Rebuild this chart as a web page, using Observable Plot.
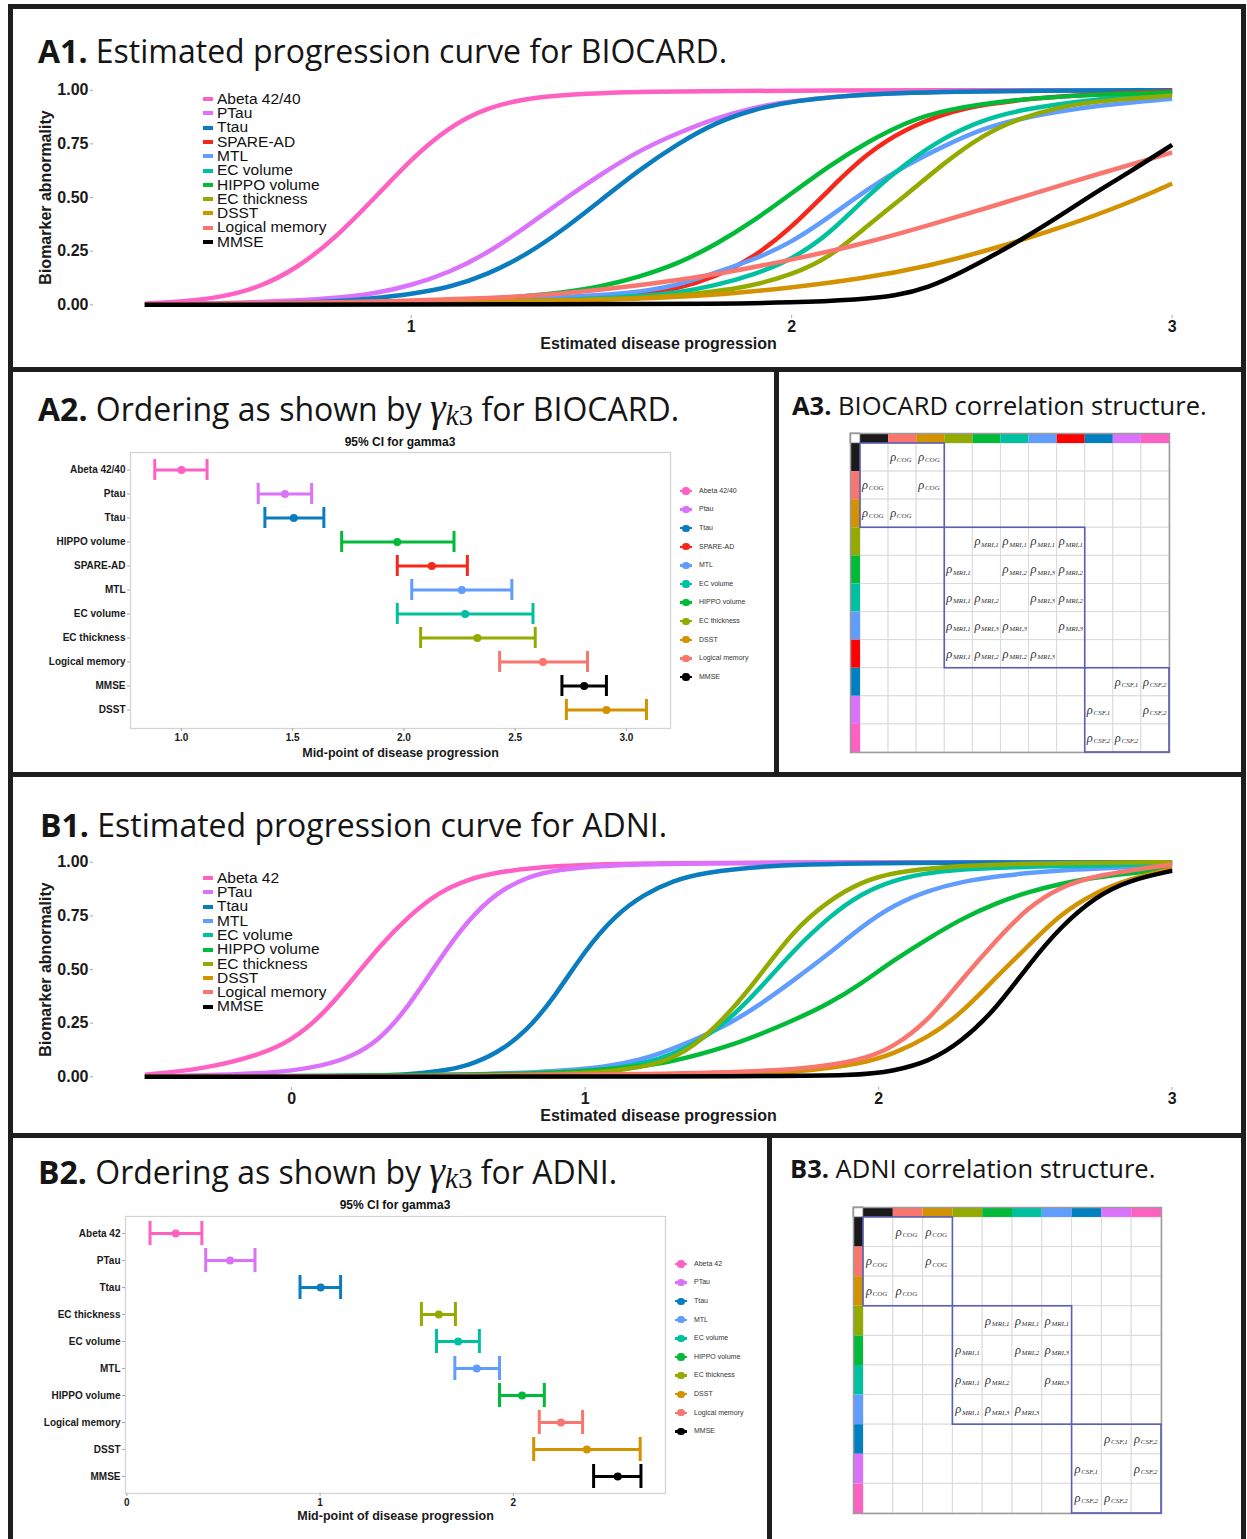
<!DOCTYPE html>
<html><head><meta charset="utf-8">
<script src="https://cdn.jsdelivr.net/npm/d3@7"></script>
<script src="https://cdn.jsdelivr.net/npm/@observablehq/plot@0.6"></script>
<style>
body{margin:0;background:#fff;}
#page{position:relative;width:1247px;height:1539px;overflow:hidden;font-family:"Liberation Sans",Arial,sans-serif;background:#fff;}
.abs{position:absolute;}
.box{position:absolute;border:5px solid #1e1e1e;box-sizing:border-box;pointer-events:none;}
.title{position:absolute;font-family:"Open Sans",sans-serif;font-size:32px;line-height:32px;color:#151515;white-space:nowrap;}
.title.small{font-size:25.5px;line-height:25.5px;}
.gam{font-family:"Liberation Serif",serif;font-style:italic;font-size:40px;}
.gsub{font-family:"Liberation Serif",serif;font-size:29px;position:relative;top:4px;}
.sub{position:absolute;font-weight:bold;font-size:12px;line-height:12px;text-align:center;color:#111;white-space:nowrap;}
</style>
</head><body>
<div id="page"></div>
<script>
// ---------- A1: BIOCARD progression curves (x, abnormality) ----------
const A1_NAMES = ["Abeta 42/40","PTau","Ttau","SPARE-AD","MTL","EC volume","HIPPO volume","EC thickness","DSST","Logical memory","MMSE"];
const A1_COLORS = ["#FF61C3","#DB72FB","#0A7DBE","#F5291B","#619CFF","#00C19F","#00BA38","#93AA00","#D39200","#F8766D","#000000"];
const A1_ABETA = [[0.3,0.005],[0.4,0.015],[0.5,0.035],[0.6,0.08],[0.7,0.17],[0.8,0.31],[0.9,0.49],[1.0,0.68],[1.1,0.83],[1.2,0.92],[1.3,0.96],[1.4,0.98],[1.6,0.995],[2.0,1],[3.0,1]];
const A1_PTAU = [[0.3,0.002],[0.6,0.01],[0.8,0.03],[0.9,0.05],[1.0,0.09],[1.1,0.15],[1.2,0.24],[1.3,0.36],[1.4,0.49],[1.5,0.61],[1.6,0.72],[1.7,0.8],[1.8,0.87],[1.9,0.92],[2.0,0.95],[2.2,0.985],[2.5,0.997],[3.0,1]];
const A1_TTAU = [[0.3,0.001],[0.6,0.005],[0.8,0.015],[0.9,0.03],[1.0,0.05],[1.1,0.08],[1.2,0.14],[1.3,0.23],[1.4,0.35],[1.5,0.49],[1.6,0.63],[1.7,0.75],[1.8,0.85],[1.9,0.91],[2.0,0.95],[2.2,0.985],[2.5,0.997],[3.0,1]];
const A1_SPARE = [[0.3,0],[1.0,0.005],[1.2,0.01],[1.4,0.02],[1.6,0.045],[1.7,0.075],[1.8,0.13],[1.9,0.22],[2.0,0.36],[2.1,0.54],[2.2,0.71],[2.3,0.82],[2.4,0.89],[2.5,0.935],[2.7,0.975],[3.0,0.995]];
const A1_MTL = [[0.3,0],[1.0,0.01],[1.3,0.025],[1.5,0.045],[1.6,0.06],[1.7,0.09],[1.8,0.15],[1.9,0.21],[2.0,0.29],[2.1,0.41],[2.2,0.54],[2.3,0.65],[2.4,0.74],[2.5,0.82],[2.6,0.87],[2.8,0.93],[3.0,0.96]];
const A1_ECVOL = [[0.3,0],[1.0,0.005],[1.4,0.02],[1.6,0.04],[1.7,0.055],[1.8,0.09],[1.9,0.14],[2.0,0.21],[2.1,0.33],[2.2,0.51],[2.3,0.66],[2.4,0.78],[2.5,0.86],[2.6,0.91],[2.8,0.96],[3.0,0.985]];
const A1_HIPPO = [[0.3,0],[1.0,0.01],[1.2,0.025],[1.4,0.055],[1.5,0.085],[1.6,0.13],[1.7,0.19],[1.8,0.28],[1.9,0.39],[2.0,0.52],[2.1,0.65],[2.2,0.76],[2.3,0.85],[2.4,0.91],[2.6,0.96],[2.8,0.98],[3.0,0.99]];
const A1_ECTHK = [[0.3,0],[1.0,0.005],[1.4,0.015],[1.6,0.03],[1.8,0.06],[1.9,0.09],[2.0,0.14],[2.1,0.22],[2.2,0.37],[2.3,0.51],[2.4,0.66],[2.5,0.79],[2.6,0.87],[2.7,0.92],[2.8,0.95],[3.0,0.975]];
const A1_DSST = [[0.3,0],[1.0,0.01],[1.4,0.02],[1.65,0.03],[1.83,0.05],[2.0,0.08],[2.18,0.12],[2.36,0.18],[2.53,0.26],[2.71,0.36],[2.88,0.47],[3.0,0.565]];
const A1_LOGMEM = [[0.3,0.003],[0.8,0.01],[1.0,0.02],[1.2,0.03],[1.4,0.05],[1.65,0.1],[1.83,0.15],[2.0,0.21],[2.18,0.28],[2.36,0.37],[2.53,0.46],[2.71,0.56],[3.0,0.71]];
const A1_MMSE = [[0.3,0],[1.5,0.002],[1.8,0.005],[2.0,0.01],[2.18,0.025],[2.27,0.04],[2.36,0.08],[2.445,0.15],[2.53,0.23],[2.62,0.32],[2.71,0.42],[2.795,0.52],[2.88,0.61],[3.0,0.745]];
const A1_SERIES = [A1_ABETA,A1_PTAU,A1_TTAU,A1_SPARE,A1_MTL,A1_ECVOL,A1_HIPPO,A1_ECTHK,A1_DSST,A1_LOGMEM,A1_MMSE];
const A1_XTICKS = [1,2,3];

// ---------- B1: ADNI progression curves ----------
const B1_NAMES = ["Abeta 42","PTau","Ttau","MTL","EC volume","HIPPO volume","EC thickness","DSST","Logical memory","MMSE"];
const B1_COLORS = ["#FF61C3","#DB72FB","#0A7DBE","#619CFF","#00C19F","#00BA38","#93AA00","#D39200","#F8766D","#000000"];
const B1_ABETA = [[-0.5,0.01],[-0.3,0.035],[-0.1,0.105],[0,0.17],[0.1,0.28],[0.2,0.44],[0.3,0.61],[0.4,0.75],[0.5,0.86],[0.6,0.92],[0.7,0.955],[0.9,0.985],[1.2,0.997],[2,1],[3,1]];
const B1_PTAU = [[-0.5,0.002],[-0.3,0.006],[-0.1,0.017],[0,0.028],[0.1,0.05],[0.2,0.09],[0.3,0.17],[0.4,0.33],[0.5,0.54],[0.6,0.73],[0.7,0.86],[0.8,0.93],[0.9,0.965],[1.1,0.99],[1.5,0.998],[3,1]];
const B1_TTAU = [[-0.5,0],[0.2,0.002],[0.4,0.01],[0.5,0.025],[0.6,0.05],[0.7,0.11],[0.8,0.21],[0.9,0.38],[1.0,0.59],[1.1,0.75],[1.2,0.85],[1.3,0.915],[1.4,0.95],[1.6,0.985],[2,0.998],[3,1]];
const B1_MTL = [[-0.5,0],[0.5,0.005],[0.85,0.02],[1.08,0.045],[1.19,0.08],[1.26,0.11],[1.37,0.17],[1.49,0.245],[1.6,0.34],[1.71,0.449],[1.83,0.573],[1.94,0.698],[2.05,0.8],[2.17,0.869],[2.28,0.908],[2.4,0.935],[2.62,0.965],[3,0.986]];
const B1_ECVOL = [[-0.5,0],[0.6,0.004],[0.9,0.012],[1.1,0.035],[1.26,0.081],[1.37,0.15],[1.49,0.262],[1.6,0.418],[1.71,0.589],[1.83,0.745],[1.94,0.854],[2.05,0.916],[2.17,0.955],[2.4,0.978],[3,0.99]];
const B1_HIPPO = [[-0.5,0],[0.7,0.008],[1.0,0.025],[1.19,0.05],[1.26,0.059],[1.49,0.137],[1.71,0.262],[1.83,0.34],[1.94,0.433],[2.05,0.542],[2.17,0.645],[2.28,0.735],[2.4,0.81],[2.51,0.862],[2.62,0.9],[2.74,0.931],[3,0.97]];
const B1_ECTHK = [[-0.5,0],[0.5,0.003],[0.9,0.01],[1.1,0.025],[1.26,0.06],[1.37,0.137],[1.49,0.293],[1.6,0.48],[1.71,0.682],[1.83,0.822],[1.94,0.908],[2.05,0.955],[2.28,0.986],[2.6,0.997],[3,1]];
const B1_DSST = [[-0.5,0],[1.0,0.002],[1.5,0.01],[1.71,0.019],[1.94,0.059],[2.05,0.106],[2.17,0.184],[2.28,0.293],[2.4,0.464],[2.51,0.61],[2.62,0.76],[2.74,0.86],[2.85,0.92],[3,0.97]];
const B1_LOGMEM = [[-0.5,0],[0.5,0.003],[1.26,0.012],[1.71,0.028],[1.94,0.075],[2.05,0.137],[2.17,0.262],[2.28,0.449],[2.4,0.636],[2.51,0.792],[2.62,0.885],[2.74,0.94],[3,0.99]];
const B1_MMSE = [[-0.5,0],[1.5,0.001],[1.94,0.005],[2.05,0.027],[2.17,0.07],[2.28,0.16],[2.4,0.316],[2.51,0.52],[2.62,0.70],[2.74,0.84],[2.85,0.915],[3,0.96]];
const B1_SERIES = [B1_ABETA,B1_PTAU,B1_TTAU,B1_MTL,B1_ECVOL,B1_HIPPO,B1_ECTHK,B1_DSST,B1_LOGMEM,B1_MMSE];
const B1_XTICKS = [0,1,2,3];

// ---------- A2: 95% CI for gamma3 (BIOCARD) ----------
const A2_CATS = ["Abeta 42/40","Ptau","Ttau","HIPPO volume","SPARE-AD","MTL","EC volume","EC thickness","Logical memory","MMSE","DSST"];
const A2_LO  = [0.88,1.345,1.375,1.72,1.97,2.035,1.97,2.075,2.43,2.71,2.73];
const A2_MID = [1.0,1.465,1.505,1.97,2.125,2.26,2.275,2.33,2.625,2.81,2.91];
const A2_HI  = [1.115,1.585,1.64,2.225,2.285,2.485,2.58,2.59,2.825,2.91,3.09];
const A2_LEG = ["Abeta 42/40","Ptau","Ttau","SPARE-AD","MTL","EC volume","HIPPO volume","EC thickness","DSST","Logical memory","MMSE"];
const A2_XTICKS = [1.0,1.5,2.0,2.5,3.0];

// ---------- B2: 95% CI for gamma3 (ADNI) ----------
const B2_CATS = ["Abeta 42","PTau","Ttau","EC thickness","EC volume","MTL","HIPPO volume","Logical memory","DSST","MMSE"];
const B2_LO  = [0.12,0.408,0.896,1.524,1.602,1.697,1.928,2.134,2.105,2.415];
const B2_MID = [0.253,0.534,1.003,1.614,1.714,1.81,2.045,2.246,2.38,2.54];
const B2_HI  = [0.388,0.663,1.106,1.70,1.824,1.928,2.16,2.358,2.656,2.66];
const B2_LEG = ["Abeta 42","PTau","Ttau","MTL","EC volume","HIPPO volume","EC thickness","DSST","Logical memory","MMSE"];
const B2_XTICKS = [0,1,2];

// ---------- A3 / B3: correlation structures ----------
const A3_HEAD = ["#1a1a1a","#F8766D","#D39200","#93AA00","#00BA38","#00C19F","#619CFF","#FF0000","#0080C0","#DB72FB","#FF61C3"];
const A3_BLOCKS = [[0,3],[3,8],[8,11]];
const A3_LABELS = [
  [0,1,"COG"],[0,2,"COG"],[1,0,"COG"],[1,2,"COG"],[2,0,"COG"],[2,1,"COG"],
  [3,4,"MRI,1"],[3,5,"MRI,1"],[3,6,"MRI,1"],[3,7,"MRI,1"],
  [4,3,"MRI,1"],[4,5,"MRI,2"],[4,6,"MRI,3"],[4,7,"MRI,2"],
  [5,3,"MRI,1"],[5,4,"MRI,2"],[5,6,"MRI,3"],[5,7,"MRI,2"],
  [6,3,"MRI,1"],[6,4,"MRI,3"],[6,5,"MRI,3"],[6,7,"MRI,3"],
  [7,3,"MRI,1"],[7,4,"MRI,2"],[7,5,"MRI,2"],[7,6,"MRI,3"],
  [8,9,"CSF,1"],[8,10,"CSF,2"],[9,8,"CSF,1"],[9,10,"CSF,2"],[10,8,"CSF,2"],[10,9,"CSF,2"]
];
const B3_HEAD = ["#1a1a1a","#F8766D","#D39200","#93AA00","#00BA38","#00C19F","#619CFF","#0080C0","#DB72FB","#FF61C3"];
const B3_BLOCKS = [[0,3],[3,7],[7,10]];
const B3_LABELS = [
  [0,1,"COG"],[0,2,"COG"],[1,0,"COG"],[1,2,"COG"],[2,0,"COG"],[2,1,"COG"],
  [3,4,"MRI,1"],[3,5,"MRI,1"],[3,6,"MRI,1"],
  [4,3,"MRI,1"],[4,5,"MRI,2"],[4,6,"MRI,3"],
  [5,3,"MRI,1"],[5,4,"MRI,2"],[5,6,"MRI,3"],
  [6,3,"MRI,1"],[6,4,"MRI,3"],[6,5,"MRI,3"],
  [7,8,"CSF,1"],[7,9,"CSF,2"],[8,7,"CSF,1"],[8,9,"CSF,2"],[9,7,"CSF,2"],[9,8,"CSF,2"]
];

// ================= drawing =================
const page = document.getElementById("page");
function place(el, left, top) {
  const d = document.createElement("div");
  d.className = "abs"; d.style.left = left + "px"; d.style.top = top + "px";
  d.appendChild(el); page.appendChild(d); return d;
}
const FONT = "'Liberation Sans', Arial, sans-serif";

function curveChart(o) {
  const rows = [];
  o.series.forEach((pts, i) => pts.forEach(([x, y]) => rows.push({name: o.names[i], x, y})));
  return Plot.plot({
    width: o.width, height: o.height,
    marginLeft: o.mL, marginRight: o.mR, marginTop: o.mT, marginBottom: o.mB,
    style: {background: "transparent", fontFamily: FONT, fontSize: "16px", fontWeight: "bold", color: "#1a1a1a"},
    x: {domain: o.xDomain},
    y: {domain: [-0.05, 1.05]},
    color: {domain: o.names, range: o.colors},
    marks: [
      Plot.axisY({ticks: [0, 0.25, 0.5, 0.75, 1], tickFormat: d3.format(".2f"), tickSize: 3, tickPadding: 2, stroke: "#aaa", fill: "#1a1a1a", label: null}),
      Plot.axisX({ticks: o.xTicks, tickFormat: d3.format("d"), tickSize: 3, tickPadding: 2, stroke: "#aaa", fill: "#1a1a1a", label: null}),
      Plot.text(["Biomarker abnormality"], {frameAnchor: "left", textAnchor: "middle", rotate: -90, dx: -48, fontSize: 16, fontWeight: "bold", fill: "#1a1a1a"}),
      Plot.text(["Estimated disease progression"], {frameAnchor: "bottom", dy: o.xLabDy, fontSize: 16, fontWeight: "bold", fill: "#1a1a1a"}),
      Plot.line(rows, {x: "x", y: "y", z: "name", stroke: "name", strokeWidth: 4.5, curve: "basis", strokeLinecap: "butt"})
    ]
  });
}

function ciChart(o) {
  const rows = o.cats.map((c, i) => ({name: c, lo: o.lo[i], mid: o.mid[i], hi: o.hi[i]}));
  return Plot.plot({
    width: o.width, height: o.height,
    marginLeft: o.mL, marginRight: o.mR, marginTop: o.mT, marginBottom: o.mB,
    style: {background: "transparent", fontFamily: FONT, fontSize: "10px", fontWeight: "bold", color: "#1a1a1a"},
    x: {domain: o.xDomain},
    y: {type: "band", domain: o.cats, paddingInner: 0.12, paddingOuter: 0.16},
    color: {domain: o.legNames, range: o.legColors},
    marks: [
      Plot.frame({stroke: "#d4d4d4", strokeWidth: 1.3}),
      Plot.axisY({tickSize: 3, tickPadding: 2, stroke: "#aaa", fill: "#1a1a1a", label: null}),
      Plot.axisX({ticks: o.xTicks, tickFormat: o.fmt, tickSize: 3, tickPadding: 2, stroke: "#aaa", fill: "#1a1a1a", label: null}),
      Plot.text(["Mid-point of disease progression"], {frameAnchor: "bottom", dy: o.xLabDy, fontSize: 12.5, fontWeight: "bold", fill: "#1a1a1a"}),
      Plot.ruleY(rows, {y: "name", x1: "lo", x2: "hi", stroke: "name", strokeWidth: 3}),
      Plot.tickX(rows, {x: "lo", y: "name", stroke: "name", strokeWidth: 3}),
      Plot.tickX(rows, {x: "hi", y: "name", stroke: "name", strokeWidth: 3}),
      Plot.dot(rows, {x: "mid", y: "name", fill: "name", r: 4})
    ]
  });
}

function matrixChart(o) {
  const n = o.head.length, h = o.h;
  const cells = d3.cross(d3.range(n), d3.range(n));
  const heads = o.head.map((c, i) => ({i, c}));
  const tfont = "'Liberation Serif', 'DejaVu Serif', serif";
  return Plot.plot({
    width: o.width, height: o.height,
    marginLeft: o.mL, marginRight: o.mR, marginTop: o.mT, marginBottom: o.mB,
    style: {background: "transparent"},
    x: {domain: [-h, n], axis: null},
    y: {domain: [-h, n], reverse: true, axis: null},
    color: {type: "identity"},
    marks: [
      Plot.rect(cells, {x1: d => d[1], x2: d => d[1] + 1, y1: d => d[0], y2: d => d[0] + 1, fill: "white", stroke: "#dadada", strokeWidth: 1}),
      Plot.rect(heads, {x1: d => d.i, x2: d => d.i + 1, y1: -h, y2: 0, fill: d => d.c}),
      Plot.rect(heads, {x1: -h, x2: 0, y1: d => d.i, y2: d => d.i + 1, fill: d => d.c}),
      Plot.rect([0], {x1: -h, x2: 0, y1: -h, y2: 0, fill: "white", stroke: "#666", strokeWidth: 0.8}),
      Plot.frame({stroke: "#9c9c9c", strokeWidth: 1.5}),
      Plot.rect(o.blocks, {x1: d => d[0], x2: d => d[1], y1: d => d[0], y2: d => d[1], fill: "none", stroke: "#5a5fb3", strokeWidth: 1.6}),
      Plot.text(o.labels, {x: d => d[1] + 0.5, y: d => d[0] + 0.5, text: () => "ρ", textAnchor: "start", dx: -12.5, dy: -0.5, fontSize: 12.5, fontStyle: "italic", fontFamily: tfont, fill: "#333"}),
      Plot.text(o.labels, {x: d => d[1] + 0.5, y: d => d[0] + 0.5, text: d => d[2], textAnchor: "start", dx: -5.8, dy: 2.5, fontSize: 7, fontStyle: "italic", fontFamily: tfont, fill: "#333"})
    ]
  });
}

function addLegend(names, colors, o) {
  names.forEach((n, i) => {
    const cy = o.top + i * o.step;
    const key = document.createElement("div");
    key.style.cssText = `position:absolute;left:${o.keyLeft}px;top:${cy - o.keyH / 2}px;width:${o.keyW}px;height:${o.keyH}px;background:${colors[i]}`;
    page.appendChild(key);
    if (o.dot) {
      const d = document.createElement("div");
      const r = o.dot;
      d.style.cssText = `position:absolute;left:${o.keyLeft + o.keyW / 2 - r}px;top:${cy - r}px;width:${2 * r}px;height:${2 * r}px;border-radius:50%;background:${colors[i]}`;
      page.appendChild(d);
    }
    const t = document.createElement("div");
    t.textContent = n;
    t.style.cssText = `position:absolute;left:${o.textLeft}px;top:${cy - o.fs * 0.6}px;font-size:${o.fs}px;line-height:${o.fs * 1.2}px;color:${o.color};white-space:nowrap;font-family:${FONT}`;
    page.appendChild(t);
  });
}

function addTitle(html, left, top, cls) {
  const d = document.createElement("div");
  d.className = "title" + (cls ? " " + cls : "");
  d.style.left = left + "px"; d.style.top = top + "px";
  d.innerHTML = html; page.appendChild(d);
}
function addSub(text, cx, top) {
  const d = document.createElement("div");
  d.className = "sub"; d.style.left = (cx - 100) + "px"; d.style.top = top + "px"; d.style.width = "200px";
  d.textContent = text; page.appendChild(d);
}

// A1
place(curveChart({series: A1_SERIES, names: A1_NAMES, colors: A1_COLORS, xDomain: [0.165, 3.135], xTicks: A1_XTICKS,
  width: 1247, height: 370, mL: 93, mR: 24, mT: 79, mB: 55, xLabDy: 33}), 0, 0);
addLegend(A1_NAMES, A1_COLORS, {top: 99, step: 14.3, keyLeft: 203, keyW: 10, keyH: 4, textLeft: 217, fs: 15.5, color: "#111"});
addTitle("<b>A1.</b> Estimated progression curve for BIOCARD.", 38, 35);

// A2
place(ciChart({cats: A2_CATS, lo: A2_LO, mid: A2_MID, hi: A2_HI, legNames: A2_LEG, legColors: A1_COLORS,
  xDomain: [0.771, 3.198], xTicks: A2_XTICKS, fmt: d3.format(".1f"),
  width: 775, height: 405, mL: 130, mR: 105, mT: 82, mB: 47, xLabDy: 28}), 0, 370);
addLegend(A2_LEG, A1_COLORS, {top: 491, step: 18.6, keyLeft: 680, keyW: 12, keyH: 2.5, dot: 3.6, textLeft: 699, fs: 7, color: "#333"});
addSub("95% CI for gamma3", 400, 436);
addTitle('<b>A2.</b> Ordering as shown by <span class="gam">γ</span><span class="gsub"><i>k</i>3</span> for BIOCARD.', 38, 392);

// A3
place(matrixChart({head: A3_HEAD, h: 0.356, blocks: A3_BLOCKS, labels: A3_LABELS,
  width: 470, height: 405, mL: 75, mR: 76, mT: 63, mB: 23}), 775, 370);
addTitle("<b>A3.</b> BIOCARD correlation structure.", 792, 393, "small");

// B1
place(curveChart({series: B1_SERIES, names: B1_NAMES, colors: B1_COLORS, xDomain: [-0.675, 3.175], xTicks: B1_XTICKS,
  width: 1247, height: 360, mL: 93, mR: 24, mT: 76, mB: 48, xLabDy: 33}), 0, 775);
addLegend(B1_NAMES, B1_COLORS, {top: 878, step: 14.3, keyLeft: 203, keyW: 10, keyH: 4, textLeft: 217, fs: 15.5, color: "#111"});
addTitle("<b>B1.</b> Estimated progression curve for ADNI.", 40, 809);

// B2
place(ciChart({cats: B2_CATS, lo: B2_LO, mid: B2_MID, hi: B2_HI, legNames: B2_LEG, legColors: B1_COLORS,
  xDomain: [-0.007, 2.787], xTicks: B2_XTICKS, fmt: d3.format("d"),
  width: 770, height: 404, mL: 125, mR: 105, mT: 81, mB: 46, xLabDy: 26}), 0, 1135);
addLegend(B2_LEG, B1_COLORS, {top: 1264, step: 18.6, keyLeft: 675, keyW: 12, keyH: 2.5, dot: 3.6, textLeft: 694, fs: 7, color: "#333"});
addSub("95% CI for gamma3", 395, 1199);
addTitle('<b>B2.</b> Ordering as shown by <span class="gam">γ</span><span class="gsub"><i>k</i>3</span> for ADNI.', 38, 1155);

// B3
place(matrixChart({head: B3_HEAD, h: 0.336, blocks: B3_BLOCKS, labels: B3_LABELS,
  width: 475, height: 404, mL: 83, mR: 84, mT: 72, mB: 26}), 770, 1135);
addTitle("<b>B3.</b> ADNI correlation structure.", 790, 1156, "small");

// panel borders
[[8,4,1238,368],[8,367,771,410],[774,367,472,410],[8,772,1238,366],[8,1133,764,420],[767,1133,479,420]].forEach(([l,t,w,hh]) => {
  const b = document.createElement("div");
  b.className = "box";
  b.style.left = l + "px"; b.style.top = t + "px"; b.style.width = w + "px"; b.style.height = hh + "px";
  page.appendChild(b);
});
</script>
</body></html>
